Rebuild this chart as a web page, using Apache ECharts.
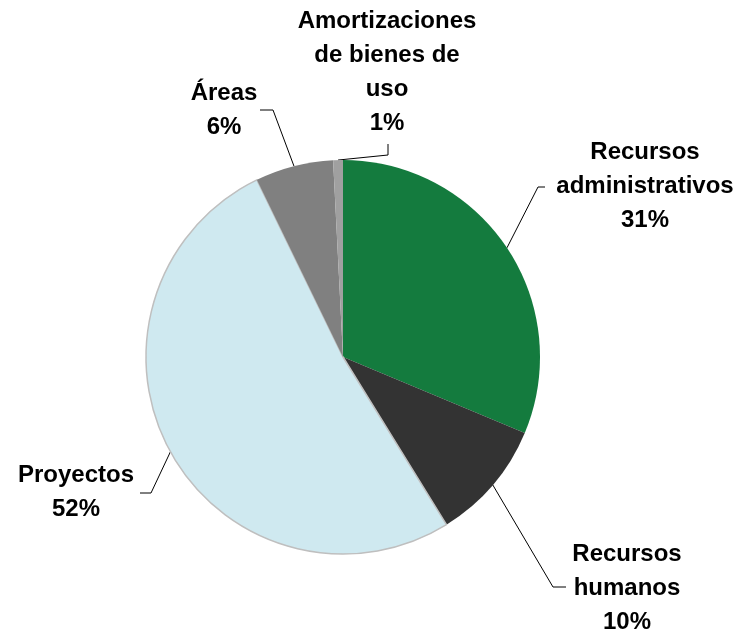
<!DOCTYPE html>
<html>
<head>
<meta charset="utf-8">
<script src="https://cdn.jsdelivr.net/npm/echarts@6/dist/echarts.min.js"></script>
<style>html,body{margin:0;padding:0;background:#fff}#c{width:753px;height:636px}</style>
</head>
<body>
<div id="c"></div>
<script>
var categories = ["Recursos\nadministrativos", "Recursos\nhumanos", "Proyectos", "Áreas", "Amortizaciones\nde bienes de\nuso"];
var values = [31.3, 9.9, 51.6, 6.4, 0.8];
var colors = ["#147b3e", "#333333", "#cfe9f0", "#808080", "#a0a0a0"];
var borders = [0, 0, 1.5, 0, 0];

// label placement (layout only): text centre, leader-line elbow and end
var labelPos = [
  {x: 645, y: 186, elbow: [538, 187], end: [545, 187]},
  {x: 627, y: 588, elbow: [553, 587], end: [566, 587]},
  {x: 76,  y: 492, elbow: [151, 493], end: [140, 493]},
  {x: 224, y: 110, elbow: [273, 110], end: [260, 110]},
  {x: 387, y: 72,  elbow: [388, 155], end: [388, 144]}
];

var chart = echarts.init(document.getElementById('c'), null, {renderer: 'canvas'});
var data = categories.map(function (n, i) {
  return {name: n, value: values[i], itemStyle: {color: colors[i], borderColor: '#bfbfbf', borderWidth: borders[i]}};
});
chart.setOption({
  animation: false,
  series: [{
    type: 'pie',
    center: [343, 357],
    radius: 197,
    startAngle: 90,
    clockwise: true,
    data: data,
    label: {
      show: true,
      position: 'outside',
      fontFamily: 'Liberation Sans, Arial, sans-serif',
      fontWeight: 'bold',
      fontSize: 24,
      lineHeight: 34,
      color: '#000',
      align: 'center',
      formatter: function (p) { return p.name + '\n' + Math.round(p.percent) + '%'; }
    },
    labelLine: {show: true, length: 20, length2: 10, lineStyle: {color: '#000', width: 1}},
    labelLayout: function (params) {
      var lp = labelPos[params.dataIndex];
      var start = params.labelLinePoints ? params.labelLinePoints[0] : lp.elbow;
      return {
        x: lp.x, y: lp.y, align: 'center', verticalAlign: 'middle',
        labelLinePoints: [start, lp.elbow, lp.end]
      };
    },
    emphasis: {disabled: true}
  }]
});
</script>
</body>
</html>
